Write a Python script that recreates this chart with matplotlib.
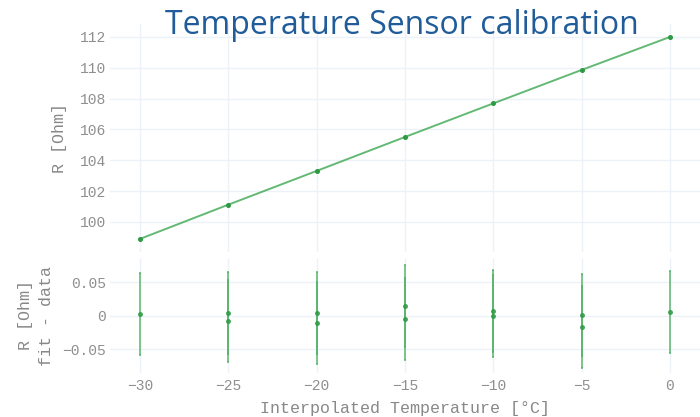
import matplotlib
matplotlib.use("Agg")
import matplotlib.pyplot as plt

# ---- data ----
temps = [-30, -25, -20, -15, -10, -5, 0]
resistance = [98.9, 101.12, 103.31, 105.51, 107.69, 109.86, 112.0]

res_x = [-30, -25, -25, -20, -20, -15, -15, -10, -10, -5, -5, 0]
res_y = [0.0025, 0.0045, -0.0085, 0.0045, -0.0105, 0.015, -0.0055, 0.0065, 0.0, 0.0015, -0.0165, 0.006]
res_err = [0.061] * len(res_x)

x_ticks = [-30, -25, -20, -15, -10, -5, 0]
x_tick_labels = ["\u221230", "\u221225", "\u221220", "\u221215", "\u221210", "\u22125", "0"]
top_y_ticks = [100, 102, 104, 106, 108, 110, 112]
bot_y_ticks = [-0.05, 0, 0.05]
bot_y_tick_labels = ["\u22120.05", "0", "0.05"]

title = "Temperature Sensor calibration"
xlabel = "Interpolated Temperature [°C]"
top_ylabel = "R [Ohm]"
bot_ylabel = "R [Ohm]\nfit - data"

# ---- style ----
W, H = 700, 417
mono = "Liberation Mono"
tick_color = "#8f8f8f"
label_color = "#888888"
grid_color = "#edf1f8"
green_pt = "#2e9a45"
green_line = "#52b265"

fig = plt.figure(figsize=(W / 100, H / 100), dpi=100)

def px_axes(left, top, right, bottom):
    return fig.add_axes([left / W, 1 - bottom / H, (right - left) / W, (bottom - top) / H])

ax1 = px_axes(110, 24, 700, 252)
ax2 = px_axes(110, 258, 700, 373)

xlim = (-31.7, 1.7)
for ax in (ax1, ax2):
    ax.set_xlim(*xlim)
    for s in ax.spines.values():
        s.set_visible(False)
    ax.set_xticks(x_ticks)
    ax.grid(True, color=grid_color, lw=1)
    ax.set_axisbelow(True)
    ax.tick_params(length=0, colors=tick_color, labelsize=10.5, pad=3)

# top panel
ax1.plot(temps, resistance, color=green_line, lw=1.4, alpha=0.9, zorder=2)
ax1.plot(temps, resistance, "o", color=green_pt, ms=2.6, zorder=3)
ax1.set_ylim(98.05, 112.84)
ax1.set_yticks(top_y_ticks)
ax1.set_yticklabels([str(v) for v in top_y_ticks], family=mono, color=tick_color, fontsize=10.5)
ax1.tick_params(axis="x", labelbottom=False)
ax1.set_ylabel(top_ylabel, family=mono, fontsize=12, color=label_color, labelpad=9)

# bottom panel
ax2.errorbar(res_x, res_y, yerr=res_err, fmt="o", color=green_pt, ms=2.6,
             ecolor=green_line, elinewidth=1.3, capsize=1, capthick=1.3, alpha=0.8, zorder=3)
ax2.set_ylim(-0.0855, 0.086)
ax2.set_yticks(bot_y_ticks)
ax2.set_yticklabels(bot_y_tick_labels, family=mono, color=tick_color, fontsize=10.5)
ax2.set_xticks(x_ticks)
ax2.set_xticklabels(x_tick_labels, family=mono, color=tick_color, fontsize=10.5)
ax2.tick_params(axis="x", pad=4)
ax2.set_xlabel(xlabel, family=mono, fontsize=12, color=label_color, labelpad=6)
ax2.set_ylabel(bot_ylabel, family=mono, fontsize=12, color=label_color, labelpad=6, linespacing=1.45)

fig.text(402 / W, 1 - 25 / H, title, ha="center", va="center", family="Open Sans",
         fontsize=23, color="#1f5c99")

fig.savefig("out.png", dpi=100)
